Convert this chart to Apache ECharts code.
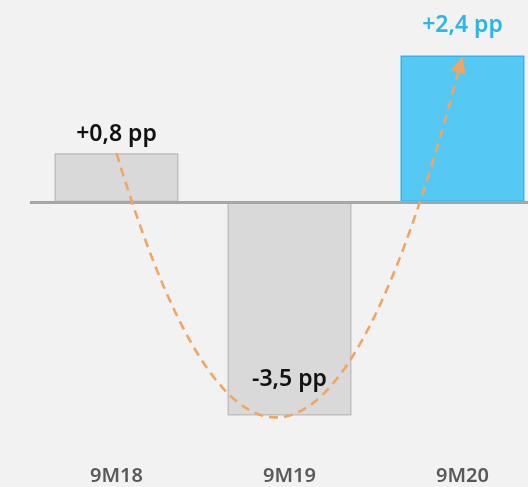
<!DOCTYPE html>
<html>
<head>
<meta charset="utf-8">
<script src="https://cdn.jsdelivr.net/npm/echarts@6/dist/echarts.min.js"></script>
<style>
html,body{margin:0;padding:0;background:#f2f2f2;}
#c{width:528px;height:487px;}
</style>
</head>
<body>
<div id="c"></div>
<script>
const categories = ['9M18', '9M19', '9M20'];
const values = [0.8, -3.5, 2.4];
const valueLabels = ['+0,8 pp', '-3,5 pp', '+2,4 pp'];

const FONT = '"Noto Sans", "Open Sans", sans-serif';
const grayStyle = { color: '#d9d9d9', borderColor: '#bfbfbf', borderWidth: 1.5 };
const blueStyle = { color: '#55c9f4', borderColor: '#2db7ec', borderWidth: 1.5 };

const barData = values.map((v, i) => {
  const isLast = i === values.length - 1;
  const lbl = { show: true, formatter: valueLabels[i], fontFamily: FONT, fontWeight: 600, fontSize: 23, color: '#111' };
  if (i === 0) { lbl.position = 'top'; lbl.distance = 7; }
  else if (i === 1) { lbl.position = 'insideBottom'; lbl.distance = 25; }
  else { lbl.position = 'top'; lbl.distance = 19; lbl.color = '#2bb6ea'; }
  return { value: v, itemStyle: isLast ? blueStyle : grayStyle, label: lbl };
});

const chart = echarts.init(document.getElementById('c'), null, { renderer: 'canvas' });
chart.setOption({
  backgroundColor: '#f2f2f2',
  animation: false,
  grid: { left: 30, width: 519, top: 19, bottom: 41, containLabel: false, outerBoundsMode: 'none' },
  xAxis: {
    type: 'category',
    data: categories,
    axisLine: { show: false, onZero: false },
    axisTick: { show: false },
    axisLabel: { margin: 20, fontFamily: FONT, fontWeight: 600, fontSize: 20, color: '#595959' }
  },
  yAxis: {
    type: 'value', min: -4, max: 3, show: false
  },
  series: [
    {
      type: 'bar',
      data: barData,
      barWidth: 124,
      z: 2,
      markLine: {
        silent: true,
        symbol: 'none',
        label: { show: false },
        lineStyle: { color: '#a6a6a6', width: 3, type: 'solid' },
        data: [{ yAxis: 0 }]
      }
    },
    {
      type: 'custom',
      z: 5,
      data: [0],
      renderItem: function (params, api) {
        const pts = values.map((v, i) => api.coord([i, v]));
        const [p0, p1, p2] = pts;
        const f = x =>
          p0[1] * (x - p1[0]) * (x - p2[0]) / ((p0[0] - p1[0]) * (p0[0] - p2[0])) +
          p1[1] * (x - p0[0]) * (x - p2[0]) / ((p1[0] - p0[0]) * (p1[0] - p2[0])) +
          p2[1] * (x - p0[0]) * (x - p1[0]) / ((p2[0] - p0[0]) * (p2[0] - p1[0]));
        const tip = [p2[0], p2[1] + 1];
        let xEnd = tip[0];
        while (xEnd > p0[0]) {
          const d = Math.hypot(tip[0] - xEnd, tip[1] - f(xEnd));
          if (d >= 13) break;
          xEnd -= 0.2;
        }
        const line = [];
        const N = 160;
        for (let k = 0; k <= N; k++) {
          const x = p0[0] + (xEnd - p0[0]) * k / N;
          line.push([x, f(x)]);
        }
        const dx = tip[0] - xEnd, dy = tip[1] - f(xEnd);
        const len = Math.hypot(dx, dy);
        const ux = dx / len, uy = dy / len;
        const L = 16, W = 7.5;
        const bx = tip[0] - ux * L, by = tip[1] - uy * L;
        const head = [tip, [bx - uy * W, by + ux * W], [bx + uy * W, by - ux * W]];
        return {
          type: 'group',
          children: [
            { type: 'polyline', shape: { points: line }, style: { stroke: '#f0a660', lineWidth: 2.6, lineDash: [9, 6], fill: null } },
            { type: 'polygon', shape: { points: head }, style: { fill: '#f0a660' } }
          ]
        };
      }
    }
  ]
});
</script>
</body>
</html>
